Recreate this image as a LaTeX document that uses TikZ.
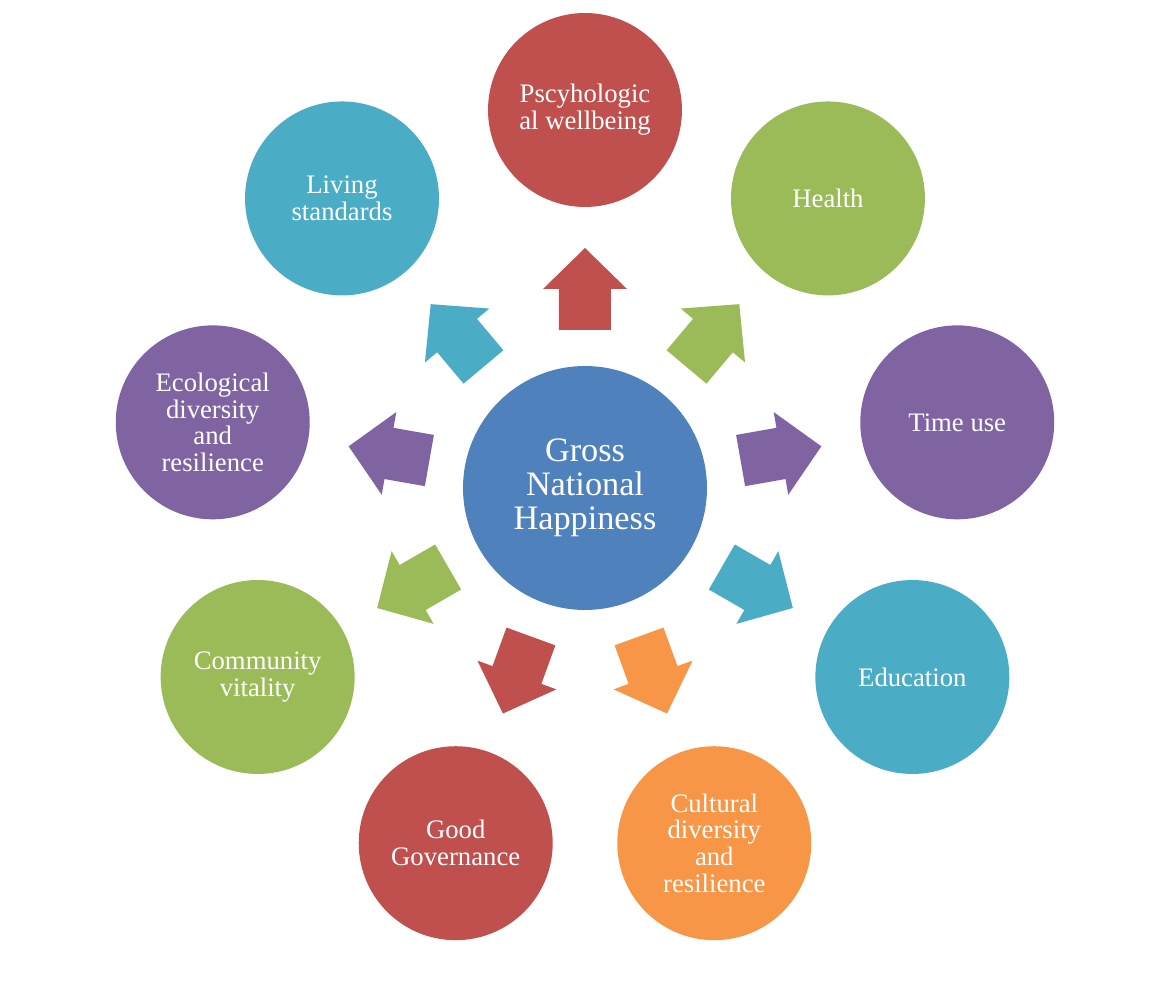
\documentclass[tikz,border=0pt]{standalone}
\usepackage{fontspec}
\setmainfont{Liberation Serif}
\usepackage{xcolor}
\usetikzlibrary{positioning}
\definecolor{gnhblue}{HTML}{4F81BD}
\definecolor{gnhred}{HTML}{C0504D}
\definecolor{gnhgreen}{HTML}{9BBB59}
\definecolor{gnhpurple}{HTML}{8064A2}
\definecolor{gnhteal}{HTML}{4BACC6}
\definecolor{gnhorange}{HTML}{F79646}
\begin{document}
\begin{tikzpicture}[x=0.02cm,y=0.02cm,
	main node/.style={circle,inner sep=0pt,fill=gnhblue,text=white,align=center,
		minimum size=4.88cm,font=\fontsize{19.5}{19.5}\selectfont},
	domain node/.style={circle,inner sep=0pt,text=white,align=center,
		minimum size=3.88cm,font=\fontsize{15.2}{15.3}\selectfont}]

    \useasboundingbox (-585,-498) rectangle (585,488);

    \node[main node] (G) at (0,0) {Gross\\National\\Happiness};

    \node[domain node,fill=gnhred] (1) at (90:378) {Pscyhologic\\al wellbeing};
    \node[domain node,fill=gnhgreen] (2) at (50:378) {Health};
    \node[domain node,fill=gnhpurple] (3) at (10:378) {Time use};
    \node[domain node,fill=gnhteal] (4) at (-30:378) {Education};
    \node[domain node,fill=gnhorange] (5) at (-70:378) {Cultural\\diversity\\and\\resilience};
    \node[domain node,fill=gnhred] (6) at (-110:378) {Good\\Governance};
    \node[domain node,fill=gnhgreen] (7) at (-150:378) {Community\\vitality};
    \node[domain node,fill=gnhpurple] (8) at (170:378) {Ecological\\diversity\\and\\resilience};
    \node[domain node,fill=gnhteal] (9) at (130:378) {Living\\standards};

%   block arrows from the centre outwards
    \foreach \a/\c in {90/gnhred,50/gnhgreen,10/gnhpurple,-30/gnhteal,-70/gnhorange,
		-110/gnhred,-150/gnhgreen,170/gnhpurple,130/gnhteal}
	\fill[\c,rotate=\a] (158,-26) -- (199,-26) -- (199,-42) -- (240,0)
		-- (199,42) -- (199,26) -- (158,26) -- cycle;

\end{tikzpicture}
\end{document}
